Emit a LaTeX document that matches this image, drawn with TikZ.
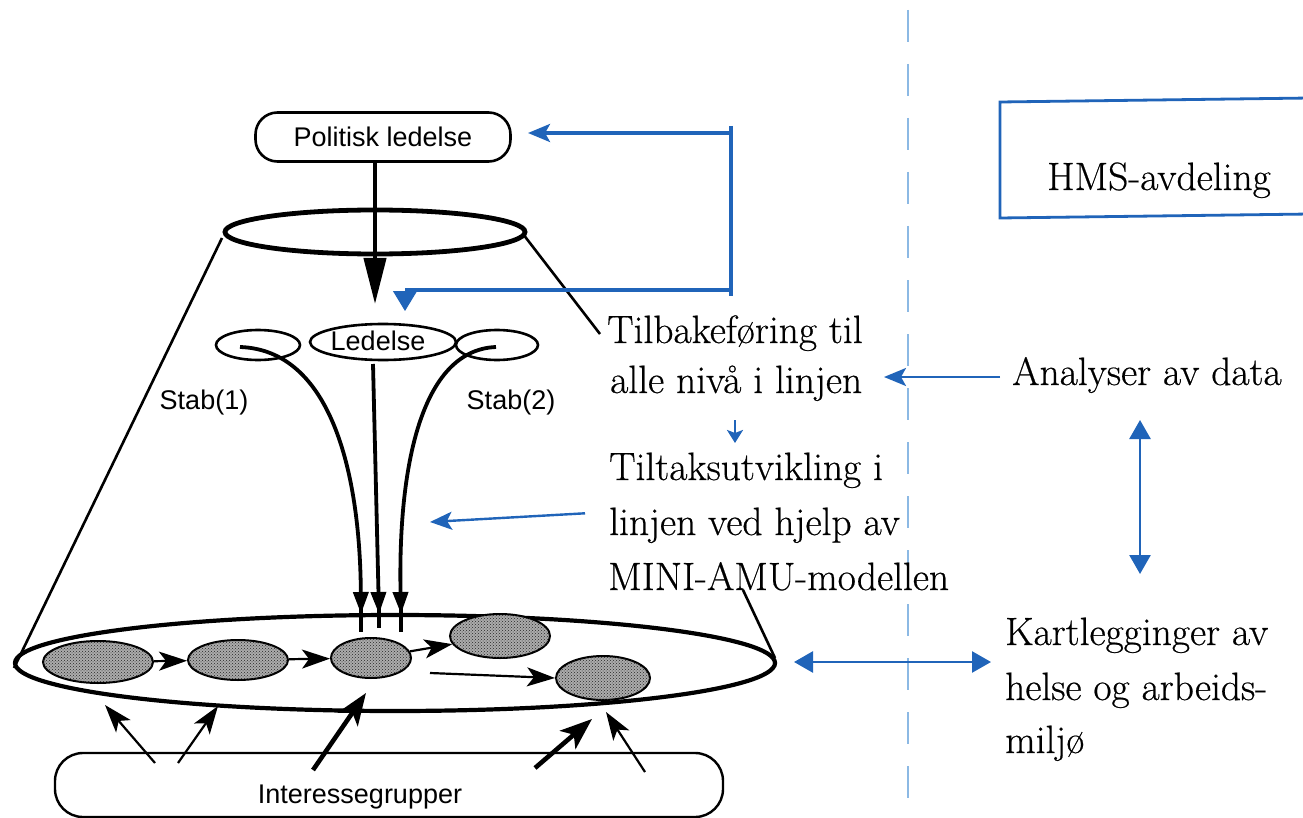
\documentclass[tikz,border=0pt]{standalone}
\usepackage{fontspec}
\newfontfamily\sansf{Liberation Sans}
\newfontfamily\serf[FakeBold=0.5]{Latin Modern Roman}
\usetikzlibrary{arrows.meta,shapes.geometric,patterns}
\definecolor{bl}{RGB}{32,100,185}
\definecolor{divblue}{RGB}{140,185,228}
\tikzset{
  sanslbl/.style={font=\sansf\fontsize{27}{31}\selectfont, inner sep=0pt},
  serlbl/.style={font=\serf\fontsize{39.5}{46}\selectfont, inner sep=0pt, anchor=base west},
  blk/.style={line width=3.8pt, -{Triangle[length=22pt,width=15pt]}},
  blkthin/.style={line width=2.2pt, -{Stealth[length=28pt,width=19pt,inset=7pt]}},
  blkthick/.style={line width=4.6pt, -{Stealth[length=32pt,width=24pt,inset=8pt]}},
  blkbig/.style={line width=4.2pt, -{Triangle[length=46pt,width=22pt]}},
  bluearr/.style={bl, line width=2.4pt, -{Stealth[length=22pt,width=18pt,inset=5pt]}},
  bluedbl/.style={bl, line width=2.6pt, {Triangle[length=19pt,width=21pt]}-{Triangle[length=19pt,width=21pt]}},
  feed/.style={bl, line width=3.6pt},
  grayell/.style={ellipse, draw, line width=2pt, fill=gray!65, inner sep=0pt,
     postaction={pattern=crosshatch dots, pattern color=black!85}},
  openell/.style={ellipse, draw, line width=2.6pt, inner sep=0pt},
}
\begin{document}
\begin{tikzpicture}[x=1pt,y=-1pt]
\useasboundingbox (0,0) rectangle (1303,818);
\fill[white] (0,0) rectangle (1303,818);

% divider
\coordinate (dv1) at (908,10);
\coordinate (dv2) at (908,818);
\draw[divblue, line width=1.6pt, dash pattern=on 32pt off 22pt] (dv1) -- (dv2);

% top part
\node[draw, line width=2.6pt, rounded corners=22pt, minimum width=255pt, minimum height=49pt, sanslbl] (pol) at (383,137) {Politisk ledelse};
\node[ellipse, draw, line width=4.8pt, minimum width=300pt, minimum height=44pt, inner sep=0pt] (top) at (375,232) {};
\coordinate (polend) at (375,304);
\draw[blkbig] (pol.south -| polend) -- (polend);

% cone edges
\coordinate (cl1) at (222,238); \coordinate (cl2) at (14,668);
\coordinate (cr1) at (523,234); \coordinate (cr2) at (600,334);
\coordinate (cr3) at (743,590); \coordinate (cr4) at (775,658);
\draw[line width=2.6pt] (cl1) -- (cl2);
\draw[line width=2.6pt] (cr1) -- (cr2);
\draw[line width=2.6pt] (cr3) -- (cr4);

% big ellipse
\node[ellipse, draw, line width=4.2pt, minimum width=760pt, minimum height=96pt, inner sep=0pt] (big) at (395,663) {};

% staff ellipses
\node[openell, minimum width=84pt, minimum height=30pt] (s1) at (258,345) {};
\node[openell, minimum width=146pt, minimum height=36pt] (led) at (383,342) {};
\node[sanslbl] (ledt) at (378,341) {Ledelse};
\node[openell, minimum width=82pt, minimum height=30pt] (s2) at (497,345) {};
\node[sanslbl] (st1) at (204,403) {Stab(1)};
\node[sanslbl] (st2) at (511,403) {Stab(2)};

\coordinate (c1a) at (240,347); \coordinate (c1b) at (361,614);
\coordinate (c2a) at (496,347); \coordinate (c2b) at (401,614);
\coordinate (cma) at (373,364); \coordinate (cmb) at (379,614);
\draw[blk] (c1a) .. controls (330,350) and (360,470) .. (c1b);
\draw[blk] (c2a) .. controls (420,350) and (398,470) .. (c2b);
\draw[blk] (cma) -- (cmb);
\draw[line width=3.8pt] (361,605) -- (361,632);
\draw[line width=3.8pt] (401,605) -- (401,632);
\draw[line width=3.8pt] (379,605) -- (379,628);

% gray ellipses
\node[grayell, minimum width=110pt, minimum height=42pt] (e1) at (98,662) {};
\node[grayell, minimum width=100pt, minimum height=40pt] (e2) at (238,660) {};
\node[grayell, minimum width=80pt, minimum height=40pt] (e3) at (371,658) {};
\node[grayell, minimum width=100pt, minimum height=44pt] (e4) at (500,636) {};
\node[grayell, minimum width=94pt, minimum height=44pt] (e5) at (603,678) {};
\draw[blkthin] (e1) -- (e2);
\draw[blkthin] (e2) -- (e3);
\draw[blkthin] (e3) -- (e4);
\coordinate (e3out) at (430,673);
\draw[blkthin] (e3out) -- (e5.west);

% interest groups
\node[draw, line width=2.4pt, rounded corners=28pt, minimum width=668pt, minimum height=64pt] (ig) at (389,785) {};
\node[sanslbl] (igt) at (360,797) {Interessegrupper};
\coordinate (ia1) at (155,763); \coordinate (ib1) at (105,705);
\coordinate (ia2) at (178,763); \coordinate (ib2) at (218,706);
\coordinate (ia3) at (313,770); \coordinate (ib3) at (366,693);
\coordinate (ia4) at (535,768); \coordinate (ib4) at (592,719);
\coordinate (ia5) at (645,772); \coordinate (ib5) at (606,712);
\draw[blkthin] (ia1) -- (ib1);
\draw[blkthin] (ia2) -- (ib2);
\draw[blkthick] (ia3) -- (ib3);
\draw[blkthick] (ia4) -- (ib4);
\draw[blkthin] (ia5) -- (ib5);

% feedback loop (blue)
\coordinate (fb1) at (731,126); \coordinate (fb2) at (731,296);
\coordinate (fbt) at (528,133); \coordinate (fbb) at (405,290);
\coordinate (fbd) at (405,311);
\draw[feed] (fb1) -- (fb2);
\draw[feed, -{Stealth[length=22pt,width=18pt,inset=5pt]}] (731,133) -- (fbt);
\draw[feed] (731,290) -- (fbb);
\draw[bl, line width=1pt, -{Triangle[length=20pt,width=24pt]}] (fbb) -- (fbd);

% middle texts
\node[serlbl] (tb1) at (607,343) {Tilbakeføring til};
\node[serlbl] (tb2) at (610,393) {alle nivå i linjen};
\node[serlbl] (tu1) at (609,480) {Tiltaksutvikling i};
\node[serlbl] (tu2) at (609,535) {linjen ved hjelp av};
\node[serlbl] (tu3) at (608,590) {MINI-AMU-modellen};
\coordinate (sd1) at (735,420); \coordinate (sd2) at (735,443);
\draw[bl, line width=2.4pt, -{Stealth[length=13pt,width=16pt,inset=3pt]}] (sd1) -- (sd2);
\coordinate (tuarr) at (430,522);
\draw[bluearr] (tu2.west) ++(-24,-12) coordinate (tuw) -- (tuarr);

% right side
\draw[bl, line width=2.8pt] (1310,98) -- (1000,102) -- (1000,218) -- (1310,214);
\node[serlbl] (hms) at (1047,190) {HMS-avdeling};
\node[serlbl] (an) at (1012,385) {Analyser av data};
\coordinate (anw) at (1000,377); \coordinate (ane) at (884,377);
\draw[bluearr] (anw) -- (ane);
\coordinate (vd1) at (1140,420); \coordinate (vd2) at (1140,574);
\draw[bluedbl] (vd1) -- (vd2);
\node[serlbl] (k1) at (1005,645) {Kartlegginger av};
\node[serlbl] (k2) at (1005,700) {helse og arbeids-};
\node[serlbl] (k3) at (1005,753) {miljø};
\coordinate (hd1) at (794,662); \coordinate (hd2) at (991,662);
\draw[bluedbl] (hd1) -- (hd2);
\end{tikzpicture}
\end{document}
